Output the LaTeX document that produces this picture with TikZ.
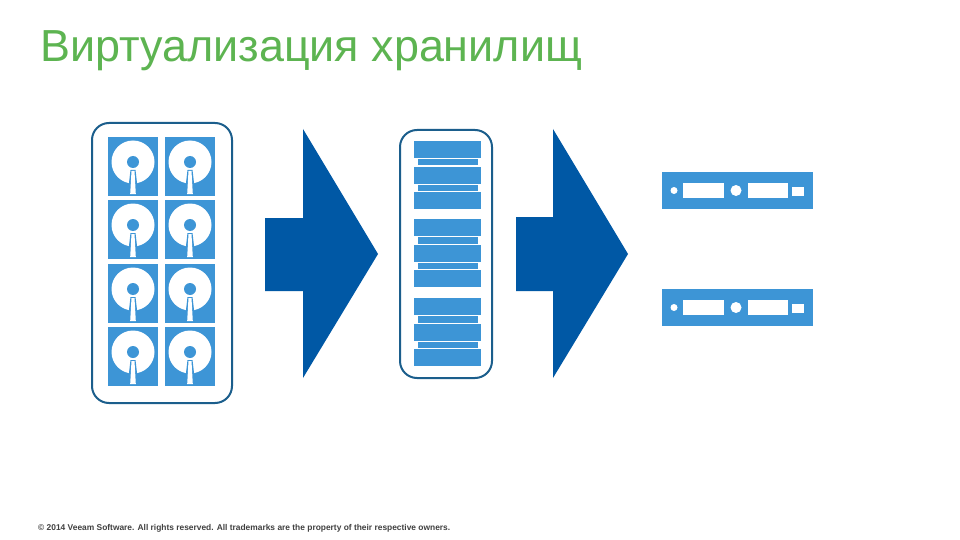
\documentclass[tikz,border=0pt]{standalone}
\usepackage{fontspec}
\setmainfont{Liberation Sans}
\definecolor{titlegreen}{HTML}{5DB451}
\definecolor{tileblue}{HTML}{3D95D6}
\definecolor{arrowblue}{HTML}{0058A5}
\definecolor{frameblue}{HTML}{1B5E8C}
\definecolor{footgrey}{HTML}{404040}
\tikzset{
  tile/.style={fill=tileblue,draw=none},
  hole/.style={fill=white,draw=none},
  bigarrow/.style={fill=arrowblue,draw=none},
  framebox/.style={draw=frameblue,line width=2pt,fill=white,rounded corners=17pt},
  disk/.pic={
    \fill[tile] (0,0) rectangle (50,59);
    \fill[hole] (25,25) circle (21.5);
    \fill[tile] (25,25) circle (6);
    \fill[tile] (20.5,50) -- (22.5,33) -- (27.5,33) -- (29.5,50) -- cycle;
    \fill[hole] (22.2,57) -- (23.5,34) -- (26.5,34) -- (27.8,57) -- cycle;
  },
  unit/.pic={
    \fill[tile] (4,18) rectangle (64,24.5);
    \fill[tile] (4,44) rectangle (64,50);
    \fill[tile] (0,0) rectangle (67,17);
    \fill[tile] (0,26) rectangle (67,43);
    \fill[tile] (0,51) rectangle (67,68);
  },
  server/.pic={
    \fill[tile] (0,0) rectangle (151,37);
    \fill[hole] (12,18.5) circle (3.5);
    \fill[hole] (21,11) rectangle (62,26);
    \fill[hole] (74,18.5) circle (5.5);
    \fill[hole] (86,11) rectangle (126,26);
    \fill[hole] (130,15) rectangle (142,24);
  }
}
\begin{document}
\begin{tikzpicture}[x=1pt,y=-1pt]
\useasboundingbox (0,0) rectangle (960,540);
\fill[white] (0,0) rectangle (960,540);
\node[anchor=base west,inner sep=0pt,text=titlegreen,font=\fontsize{44.9}{52}\selectfont] (title) at (40,62) {Виртуализация хранилищ};
\node[anchor=base west,inner sep=0pt,text=footgrey,font=\fontsize{8.4}{10}\selectfont\bfseries] (foot) at (38,530) {© 2014 Veeam Software. All rights reserved. All trademarks are the property of their respective owners.};
% disk frame
\draw[framebox] (92,123) rectangle (232,403);
\foreach \r/\y in {0/137,1/200,2/264,3/327}{
  \pic at (108,\y) {disk};
  \pic at (165,\y) {disk};
}
% arrows
\fill[bigarrow] (265,218) -- (303,218) -- (303,129) -- (378,254) -- (303,378) -- (303,291) -- (265,291) -- cycle;
\fill[bigarrow] (516,217) -- (553,217) -- (553,129) -- (628,254) -- (553,378) -- (553,291) -- (516,291) -- cycle;
% rack
\draw[framebox] (400,130) rectangle (492,378);
\foreach \y in {141,219,298}{ \pic at (414,\y) {unit}; }
% servers
\pic at (662,172) {server};
\pic at (662,289) {server};
\end{tikzpicture}
\end{document}
